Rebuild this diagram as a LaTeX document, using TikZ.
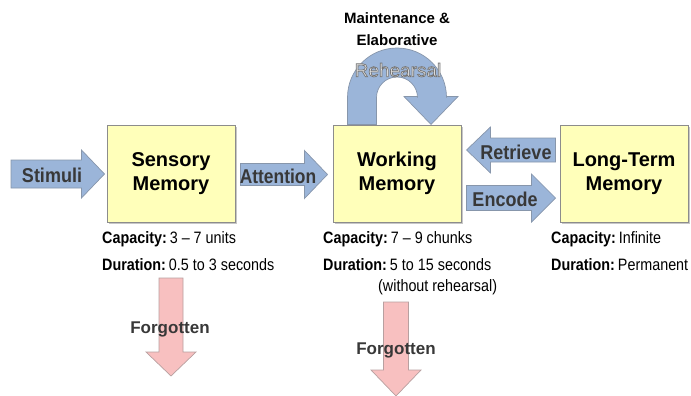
\documentclass[tikz,border=0pt]{standalone}
\usepackage{fontspec}
\setmainfont{Liberation Sans}
\newfontfamily\nfont[FakeStretch=0.87]{Liberation Sans}
\newfontfamily\afont[FakeStretch=0.9]{Liberation Sans}
\usetikzlibrary{calc,shadows}
\definecolor{boxfill}{HTML}{FFFFBA}
\definecolor{boxline}{HTML}{8C8C8C}
\definecolor{arrowblue}{HTML}{9BB5D9}
\definecolor{arrowline}{HTML}{8796AB}
\definecolor{pinkfill}{HTML}{F8C0C0}
\definecolor{pinkline}{HTML}{B8A0A0}
\definecolor{labelgray}{HTML}{383838}
% horizontal block arrow: #1 style, #2 tail, #3 tip, #4 shaft half, #5 head half, #6 head length (signed)
\newcommand\hblock[6]{%
  \draw[#1] let \p1=(#2), \p2=(#3), \n1={\x2-(#6)} in
    ({\x1},{\y1+#4}) -- ({\n1},{\y1+#4}) -- ({\n1},{\y1+#5}) -- ({\x2},{\y1})
    -- ({\n1},{\y1-#5}) -- ({\n1},{\y1-#4}) -- ({\x1},{\y1-#4}) -- cycle;}
% vertical (downward) block arrow
\newcommand\vblock[6]{%
  \draw[#1] let \p1=(#2), \p2=(#3), \n1={\y2+#6} in
    ({\x1-#4},{\y1}) -- ({\x1-#4},{\n1}) -- ({\x1-#5},{\n1}) -- ({\x1},{\y2})
    -- ({\x1+#5},{\n1}) -- ({\x1+#4},{\n1}) -- ({\x1+#4},{\y1}) -- cycle;}
\newcommand\outlinedtext[1]{\textcolor{gray!18}{\special{pdf:literal direct 2 Tr 0.45 G 0.7 w}#1\special{pdf:literal direct 0 Tr}}}
\begin{document}
\begin{tikzpicture}[x=1pt,y=-1pt,
  membox/.style={draw=boxline, line width=1pt, fill=boxfill, minimum width=128pt,
    minimum height=97pt, align=center, inner sep=0,
    font=\fontsize{20}{24}\selectfont\bfseries,
    drop shadow={opacity=0.25, shadow xshift=1.5pt, shadow yshift=-1.5pt}},
  blk/.style={draw=arrowline, fill=arrowblue, line width=0.7pt, line join=miter},
  pinkblk/.style={draw=pinkline, fill=pinkfill, line width=0.7pt, line join=miter},
  arrlbl/.style={inner sep=0, text=labelgray, font=\afont\fontsize{20}{20}\selectfont\bfseries},
  info/.style={anchor=west, inner sep=0, font=\nfont\fontsize{16.5}{18}\selectfont},
  toplbl/.style={inner sep=0, align=center, font=\fontsize{15}{22}\selectfont\bfseries}]
\useasboundingbox (0,0) rectangle (691,396);

% memory boxes
\node[membox] (sm) at (171,173.5) {Sensory\\Memory};
\node[membox] (wm) at (397,173.5) {Working\\Memory};
\node[membox] (lt) at (624,173.5) {Long-Term\\Memory};

\coordinate (stim) at (11,174);
\coordinate (f1a) at (171,278);
\coordinate (f1b) at (171,376);
\coordinate (f2a) at (396,302);
\coordinate (f2b) at (396,396);

% block arrows
\hblock{blk}{stim}{$(sm.west)+(-2,0)$}{14}{24}{23}
\hblock{blk}{$(sm.east)+(5,1)$}{$(wm.west)+(-5,1)$}{11}{24}{23}
\hblock{blk}{$(lt.west)+(-4,-23.5)$}{$(wm.east)+(5,-23.5)$}{12}{23}{-24}
\hblock{blk}{$(wm.east)+(5,24.5)$}{$(lt.west)+(-4,24.5)$}{12.5}{24}{24}

% rehearsal loop
\draw[blk, shift={(wm.north)}] (-49.5,0) -- (-49.5,-27)
  arc[start angle=180, end angle=360, radius=49.5] -- (49.5,-28) -- (61,-28)
  -- (34,0) -- (7,-28) -- (20.5,-28) -- (20.5,-27)
  arc[start angle=0, end angle=-180, radius=20.5] -- (-20.5,0) -- cycle;

% forgotten arrows
\vblock{pinkblk}{f1a}{f1b}{12}{25}{24}
\vblock{pinkblk}{f2a}{f2b}{12.5}{25}{26}

% redraw boxes on top
\node[membox] at (sm) {Sensory\\Memory};
\node[membox] at (wm) {Working\\Memory};
\node[membox] at (lt) {Long-Term\\Memory};

% arrow labels
\node[arrlbl] (tstim) at (52,175) {Stimuli};
\node[arrlbl, font=\nfont\fontsize{20}{20}\selectfont\bfseries] (tatt) at (278,176) {Attention};
\node[arrlbl] (tret) at (516,152) {Retrieve};
\node[arrlbl] (tenc) at (505,199) {Encode};

\node[toplbl] (tmaint) at (397,29) {Maintenance \&\\Elaborative};
\node[inner sep=0, font=\fontsize{19}{20}\selectfont] (treh) at (398,70)
  {\outlinedtext{Rehearsal}};

\node[arrlbl, font=\fontsize{17}{17}\selectfont\bfseries] (tf1) at (170,329) {Forgotten};
\node[arrlbl, font=\fontsize{17}{17}\selectfont\bfseries] (tf2) at (396,350) {Forgotten};

% info labels
\node[info] (c1) at (102,239) {\textbf{Capacity:}\hspace{3pt}3 – 7 units};
\node[info] (d1) at (102,265) {\textbf{Duration:}\hspace{3pt}0.5 to 3 seconds};
\node[info] (c2) at (323,239) {\textbf{Capacity:}\hspace{3pt}7 – 9 chunks};
\node[info] (d2) at (323,265) {\textbf{Duration:}\hspace{3pt}5 to 15 seconds};
\node[info] (w2) at (378,287) {(without rehearsal)};
\node[info] (c3) at (551,239) {\textbf{Capacity:}\hspace{3pt}Infinite};
\node[info] (d3) at (551,265) {\textbf{Duration:}\hspace{3pt}Permanent};
\end{tikzpicture}
\end{document}
